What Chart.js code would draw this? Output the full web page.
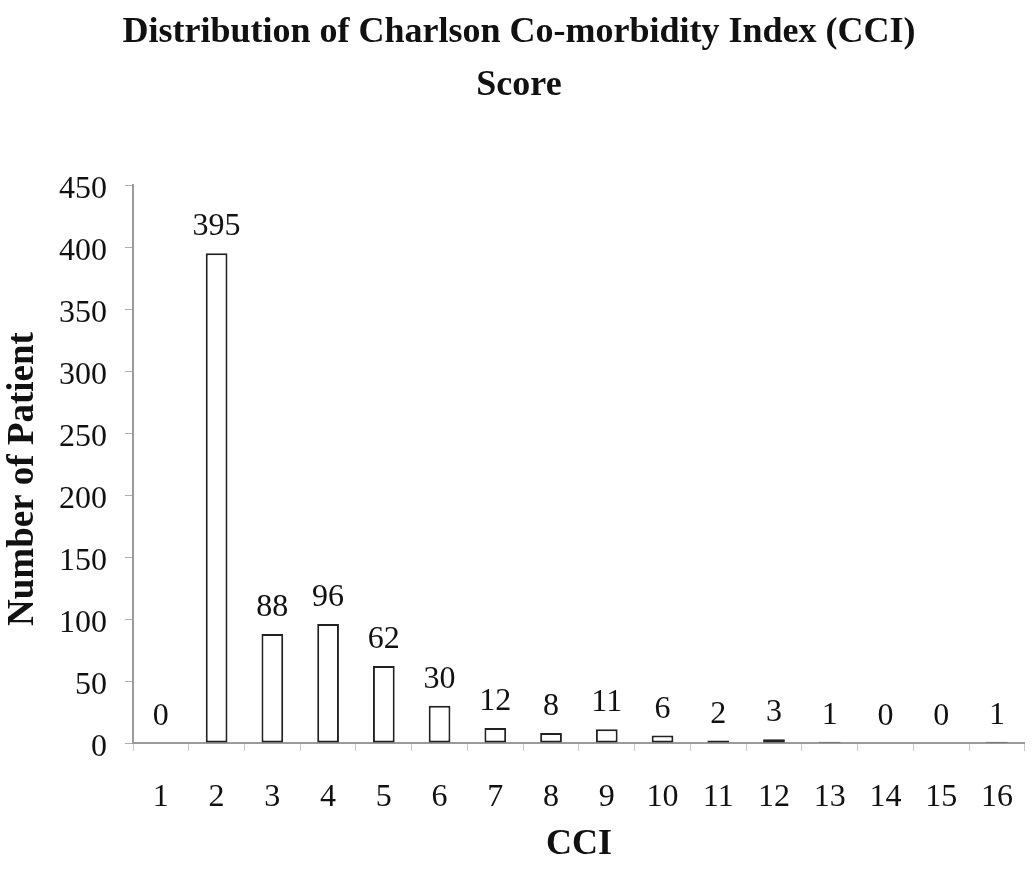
<!DOCTYPE html>
<html>
<head>
<meta charset="utf-8">
<script src="https://cdn.jsdelivr.net/npm/chart.js@4/dist/chart.umd.min.js"></script>
<style>
  html, body { margin: 0; padding: 0; background: #fff; overflow: hidden; }
  canvas { display: block; }
</style>
</head>
<body>
<canvas id="cciChart" width="1040" height="870"></canvas>
<script>
// CCI score categories and number of patients in each
const cciScores = ['1', '2', '3', '4', '5', '6', '7', '8', '9', '10', '11', '12', '13', '14', '15', '16'];
const patientCounts = [0, 395, 88, 96, 62, 30, 12, 8, 11, 6, 2, 3, 1, 0, 0, 1];
const countTicks = [0, 50, 100, 150, 200, 250, 300, 350, 400, 450];

const chartTitle = ['Distribution of Charlson Co-morbidity Index (CCI)', 'Score'];
const xAxisTitle = 'CCI';
const yAxisTitle = 'Number of Patient';

const SERIF = "'Liberation Serif', 'Times New Roman', serif";
const INK = '#111';

// Value printed above each bar
const barValueLabels = {
  id: 'barValueLabels',
  afterDatasetsDraw(chart) {
    const ctx = chart.ctx;
    const meta = chart.getDatasetMeta(0);
    const values = chart.data.datasets[0].data;
    ctx.save();
    ctx.font = '32px ' + SERIF;
    ctx.fillStyle = INK;
    ctx.textAlign = 'center';
    ctx.textBaseline = 'alphabetic';
    meta.data.forEach((bar, i) => {
      ctx.fillText(String(values[i]), bar.x, bar.y - 18);
    });
    ctx.restore();
  }
};

// Rotated caption for the count axis
const yAxisCaption = {
  id: 'yAxisCaption',
  afterDraw(chart) {
    const ctx = chart.ctx;
    ctx.save();
    ctx.translate(23.5, 479);
    ctx.rotate(-Math.PI / 2);
    ctx.font = 'bold 37px ' + SERIF;
    ctx.fillStyle = INK;
    ctx.textAlign = 'center';
    ctx.textBaseline = 'middle';
    ctx.fillText(yAxisTitle, 0, 0);
    ctx.restore();
  }
};

new Chart(document.getElementById('cciChart'), {
  type: 'bar',
  data: {
    labels: cciScores,
    datasets: [{
      data: patientCounts,
      backgroundColor: '#ffffff',
      borderColor: '#222222',
      borderWidth: 2,
      borderSkipped: false,
      categoryPercentage: 1,
      barPercentage: 0.39
    }]
  },
  options: {
    responsive: false,
    animation: false,
    devicePixelRatio: 1,
    layout: { padding: { left: 0, right: 2, top: 0, bottom: 0 } },
    plugins: {
      legend: { display: false },
      tooltip: { enabled: false },
      title: {
        display: true,
        text: chartTitle,
        color: INK,
        font: { family: SERIF, size: 36, weight: 'bold', lineHeight: 1.45 },
        padding: { top: 7, bottom: 73.6 }
      }
    },
    scales: {
      x: {
        grid: {
          display: true,
          offset: true,
          drawOnChartArea: false,
          drawTicks: true,
          tickLength: 8,
          tickColor: '#c8c8c8',
          tickWidth: 1
        },
        border: { display: true, color: '#9a9a9a', width: 2 },
        ticks: {
          color: INK,
          font: { family: SERIF, size: 32 },
          padding: 27,
          maxRotation: 0,
          autoSkip: false
        },
        title: {
          display: true,
          text: xAxisTitle,
          color: INK,
          font: { family: SERIF, size: 36, weight: 'bold' },
          padding: { top: 0, bottom: 4 }
        },
        afterFit(scale) { scale.height = 127; }
      },
      y: {
        min: 0,
        max: 450,
        grid: {
          drawOnChartArea: false,
          drawTicks: true,
          tickLength: 8,
          tickColor: '#b0b0b0',
          tickWidth: 1
        },
        border: { display: true, color: '#9a9a9a', width: 2 },
        ticks: {
          color: INK,
          font: { family: SERIF, size: 32 },
          padding: 18,
          labelOffset: 5
        },
        afterBuildTicks(scale) {
          scale.ticks = countTicks.map(v => ({ value: v }));
        },
        afterFit(scale) { scale.width = 133; }
      }
    }
  },
  plugins: [barValueLabels, yAxisCaption]
});
</script>
</body>
</html>
